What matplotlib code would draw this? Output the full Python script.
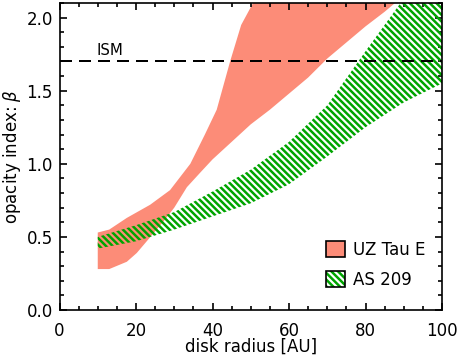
import numpy as np
import matplotlib
matplotlib.use("Agg")
import matplotlib.pyplot as plt
from matplotlib.patches import Patch
from matplotlib.ticker import MultipleLocator

# UZ Tau E band (upper and lower edge)
uz_x_upper = [10, 13, 17.6, 23.7, 28.9, 34.2, 38, 41.1, 44.6, 47.5, 50.6, 52]
uz_upper = [0.53, 0.55, 0.63, 0.72, 0.82, 1.0, 1.2, 1.37, 1.70, 1.95, 2.1, 2.2]
uz_x_lower = [10, 13, 17.6, 20.2, 22.8, 27.3, 30, 33.3, 36.8, 40, 45, 50, 55, 60,
              65, 70, 75, 80, 85, 90]
uz_lower = [0.28, 0.28, 0.33, 0.39, 0.47, 0.61, 0.70, 0.84, 0.94, 1.03, 1.15, 1.27,
            1.37, 1.48, 1.59, 1.72, 1.83, 1.94, 2.04, 2.15]

# AS 209 band
as_x = [10, 20, 30, 40, 50, 60, 70, 80, 90, 100]
as_upper = [0.50, 0.58, 0.67, 0.81, 0.96, 1.15, 1.40, 1.77, 2.13, 2.50]
as_lower = [0.42, 0.47, 0.55, 0.64, 0.73, 0.86, 1.05, 1.25, 1.42, 1.55]

beta_ism = 1.7

pink = '#FC8C78'
green = '#00A400'
hatch = '\\' * 6

plt.rcParams['font.family'] = 'DejaVu Sans'
plt.rcParams['hatch.linewidth'] = 1.5

fig = plt.figure(figsize=(463 / 120, 356 / 120), dpi=120)
ax = fig.add_axes([59.5 / 463, 1 - 310 / 356, (442 - 59.5) / 463, (310 - 3) / 356])

poly_x = np.concatenate([uz_x_upper, uz_x_lower[::-1]])
poly_y = np.concatenate([uz_upper, uz_lower[::-1]])
ax.fill(poly_x, poly_y, color=pink, lw=0, zorder=1)

ax.fill_between(as_x, as_lower, as_upper, facecolor='none', edgecolor=green,
                hatch=hatch, lw=0, zorder=2)

ax.axhline(beta_ism, color='black', lw=1.2, dashes=(6, 3.5), zorder=3)
ax.text(9.8, 1.725, 'ISM', fontsize=9, ha='left', va='bottom')

ax.set_xlim(0, 100)
ax.set_ylim(0, 2.1)
ax.xaxis.set_major_locator(MultipleLocator(20))
ax.xaxis.set_minor_locator(MultipleLocator(5))
ax.yaxis.set_major_locator(MultipleLocator(0.5))
ax.yaxis.set_minor_locator(MultipleLocator(0.1))
ax.tick_params(which='both', direction='in', top=True, right=True, width=1.0,
               labelsize=10)
ax.tick_params(which='major', length=4.3)
ax.tick_params(which='minor', length=2.2)
ax.tick_params(axis='x', pad=7)
ax.tick_params(axis='y', pad=4)
ax.yaxis.set_major_formatter(plt.FormatStrFormatter('%.1f'))
for s in ax.spines.values():
    s.set_linewidth(1.0)

ax.set_xlabel('disk radius [AU]', fontsize=10, labelpad=-1)
ax.set_ylabel(r'opacity index: $\beta$', fontsize=10, labelpad=2)

h_uz = Patch(facecolor=pink, edgecolor='black', lw=1.0)
h_as = (Patch(facecolor='white', edgecolor=green, hatch=hatch, lw=0),
        Patch(facecolor='none', edgecolor='black', lw=1.0))
ax.legend([h_uz, h_as], ['UZ Tau E', 'AS 209'], loc='upper left',
          bbox_to_anchor=(0.697, 0.225), frameon=False, fontsize=10,
          borderpad=0, borderaxespad=0, handlelength=1.15, handleheight=1.1,
          handletextpad=0.45, labelspacing=0.7)

fig.savefig('out.png', dpi=120)
